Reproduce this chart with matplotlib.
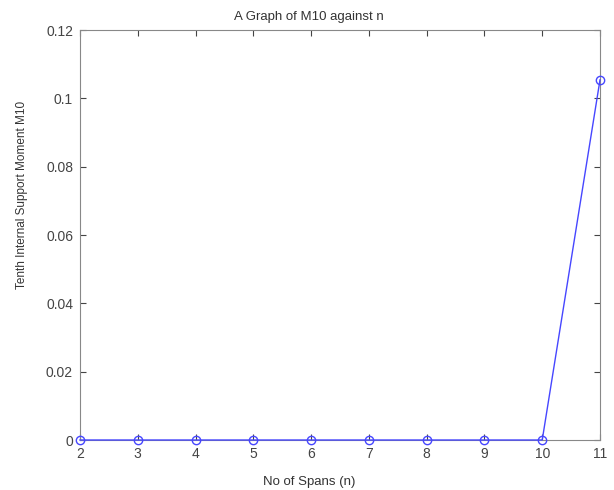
import matplotlib
matplotlib.use("Agg")
import matplotlib.pyplot as plt

# no of spans and tenth internal support moment
n_spans = [2, 3, 4, 5, 6, 7, 8, 9, 10, 11]
m10 = [0, 0, 0, 0, 0, 0, 0, 0, 0, 0.1054]

y_ticks = [0, 0.02, 0.04, 0.06, 0.08, 0.1, 0.12]
y_labels = ["0", "0.02", "0.04", "0.06", "0.08", "0.1", "0.12"]

plt.rcParams['font.family'] = ['Liberation Sans', 'DejaVu Sans']

fig = plt.figure(figsize=(6.14, 4.9), dpi=100)
ax = fig.add_axes([80 / 614, 50 / 490, 520 / 614, 410 / 490])

ax.plot(n_spans, m10, color='#4646ff', linewidth=1.0, marker='o',
        markersize=6, markerfacecolor='none', markeredgecolor='#4646ff',
        clip_on=False, zorder=3)

ax.set_xlim(2, 11)
ax.set_ylim(0, 0.12)
ax.set_xticks(n_spans)
ax.set_yticks(y_ticks)
ax.set_yticklabels(y_labels)
ax.tick_params(direction='in', top=True, right=True, labelsize=10,
               colors='#444444', length=4, width=0.8)
ax.tick_params(axis='x', pad=5)
ax.tick_params(axis='y', pad=5)
for s in ax.spines.values():
    s.set_color('#888888')

ax.set_title("A Graph of M10 against n", fontsize=9.5, color='#333333',
             x=0.44, y=1.0, pad=7)
ax.set_xlabel("No of Spans (n)", fontsize=9.5, color='#333333')
ax.xaxis.set_label_coords(0.44, -0.088)
ax.set_ylabel("Tenth Internal Support Moment M10", fontsize=8.5, color='#333333')
ax.yaxis.set_label_coords(-0.10, 0.598)

plt.savefig("out.png", dpi=100)
